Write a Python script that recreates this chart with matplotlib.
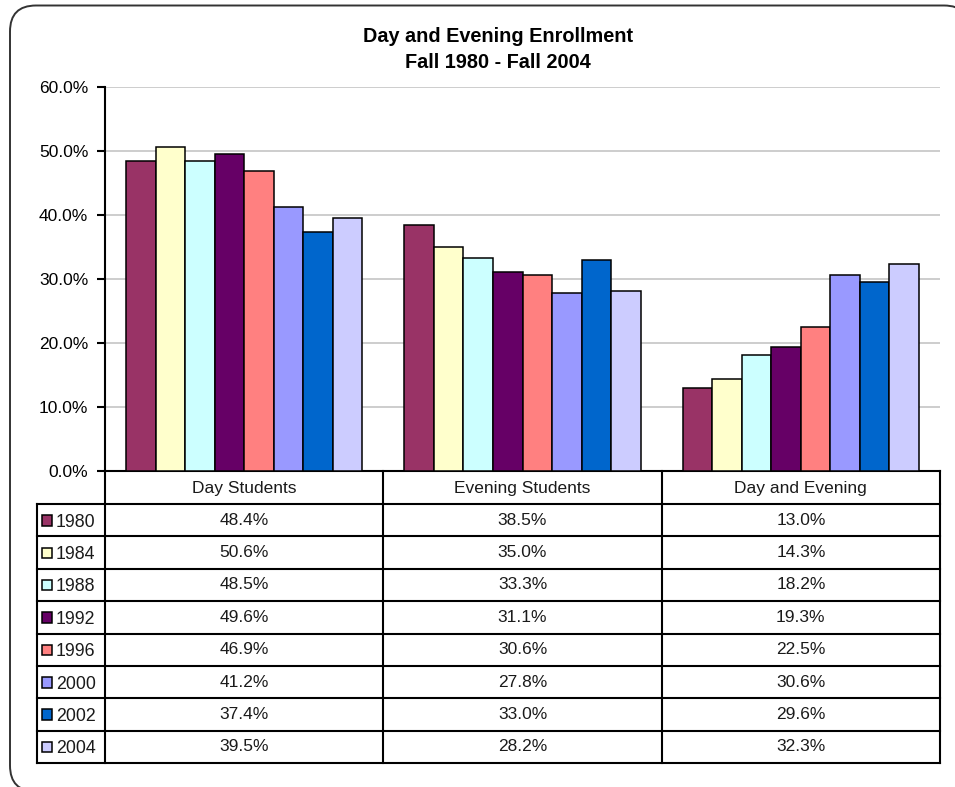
import numpy as np
from matplotlib import pyplot as plt
from matplotlib.patches import FancyBboxPatch, Rectangle
from matplotlib.ticker import FuncFormatter

plt.rcParams['font.family'] = ['Liberation Sans', 'DejaVu Sans']

categories = ["Day Students", "Evening Students", "Day and Evening"]
years = ["1980", "1984", "1988", "1992", "1996", "2000", "2002", "2004"]
values = [
    [48.4, 38.5, 13.0],
    [50.6, 35.0, 14.3],
    [48.5, 33.3, 18.2],
    [49.6, 31.1, 19.3],
    [46.9, 30.6, 22.5],
    [41.2, 27.8, 30.6],
    [37.4, 33.0, 29.6],
    [39.5, 28.2, 32.3],
]
colors = ["#993366", "#FFFFCC", "#CCFFFF", "#660066",
          "#FF8080", "#9999FF", "#0066CC", "#CCCCFF"]

W, H = 955, 787
fig = plt.figure(figsize=(W / 100, H / 100), dpi=100)

# pixel layout of the plot area and table
px_left, px_right = 105, 940
px_top, px_axis = 87, 471
px_head = 504
px_bottom = 763
px_label = 37

# background canvas in pixel coords (frame + table)
bg = fig.add_axes([0, 0, 1, 1])
bg.set_xlim(0, W)
bg.set_ylim(H, 0)
bg.axis("off")
frame = FancyBboxPatch((10, 5.5), 960, 786, boxstyle="round,pad=0,rounding_size=26",
                       facecolor="white", edgecolor="#333333", lw=1.4, clip_on=False)
bg.add_patch(frame)

# bars
ax = fig.add_axes([px_left / W, (H - px_axis) / H,
                   (px_right - px_left) / W, (px_axis - px_top) / H])
ax.set_facecolor("none")
n = len(years)
bw = 0.106
x = np.arange(len(categories))
for i, (yr, vals, c) in enumerate(zip(years, values, colors)):
    ax.bar(x + (i - (n - 1) / 2) * bw, vals, width=bw, color=c,
           edgecolor="black", linewidth=1.1, zorder=3)
ax.set_xlim(-0.5, len(categories) - 0.5)
ax.set_ylim(0, 60)
ax.set_yticks(np.arange(0, 61, 10))
ax.yaxis.set_major_formatter(FuncFormatter(lambda v, p: f"{v:.1f}%"))
ax.yaxis.grid(True, color="#C0C0C0", lw=1.1, zorder=0)
ax.set_xticks([])
for s in ["top", "right"]:
    ax.spines[s].set_visible(False)
for s in ["left", "bottom"]:
    ax.spines[s].set_linewidth(1.5)
ax.tick_params(axis="y", length=6, width=1.5, direction="out", pad=6,
               labelsize=12.5, colors="black")

# title
bg.text(498, 37, "Day and Evening Enrollment", ha="center", va="center",
        fontsize=14.3, fontweight="bold")
bg.text(498, 62, "Fall 1980 - Fall 2004", ha="center", va="center",
        fontsize=14.3, fontweight="bold")

# data table
lw = 1.5
col_w = (px_right - px_left) / len(categories)
col_edges = [px_left + k * col_w for k in range(len(categories) + 1)]
row_h = (px_bottom - px_head) / n
for xe in col_edges:
    bg.plot([xe, xe], [px_axis, px_bottom], color="black", lw=lw, solid_capstyle="projecting")
bg.plot([px_label, px_label], [px_head, px_bottom], color="black", lw=lw, solid_capstyle="projecting")
for k in range(n + 1):
    yy = px_head + k * row_h
    bg.plot([px_label, px_right], [yy, yy], color="black", lw=lw, solid_capstyle="projecting")

tc = "#1a1a1a"
for j, cat in enumerate(categories):
    bg.text(col_edges[j] + col_w / 2, (px_axis + px_head) / 2 + 1, cat,
            ha="center", va="center", fontsize=12.5, color=tc)
for i, (yr, vals, c) in enumerate(zip(years, values, colors)):
    yc = px_head + (i + 0.5) * row_h + 1
    bg.add_patch(Rectangle((41.5, yc - 6), 10.5, 10.5, facecolor=c,
                           edgecolor="black", lw=1.1))
    bg.text(56, yc + 1, yr, ha="left", va="center", fontsize=12.8, color=tc)
    for j, v in enumerate(vals):
        bg.text(col_edges[j] + col_w / 2, yc - 1, f"{v:.1f}%",
                ha="center", va="center", fontsize=12.5, color=tc)

fig.savefig("out.png", dpi=100)
